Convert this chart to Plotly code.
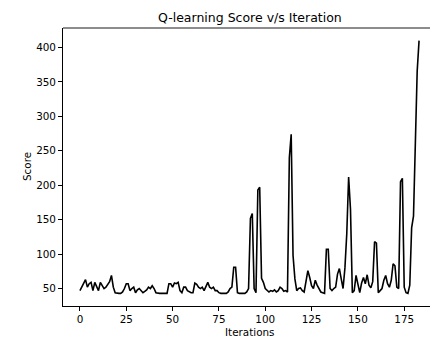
import plotly.graph_objects as go

iterations = list(range(184))
scores = [
    47, 52, 58, 63, 52, 57, 59, 47, 59, 52,
    47, 59, 54, 50, 52, 57, 60, 69, 52, 44,
    43, 43, 43, 45, 50, 57, 57, 47, 50, 52,
    44, 48, 50, 47, 44, 46, 48, 52, 50, 54,
    50, 44, 43, 43, 43, 43, 43, 43, 57, 57,
    52, 58, 57, 59, 47, 44, 52, 52, 47, 45,
    44, 44, 58, 56, 52, 50, 52, 47, 52, 59,
    52, 50, 52, 47, 47, 44, 43, 43, 43, 43,
    45, 50, 52, 81, 81, 44, 43, 43, 43, 43,
    45, 50, 152, 159, 50, 44, 193, 197, 65, 59,
    50, 48, 45, 47, 46, 48, 45, 47, 52, 50,
    46, 47, 45, 240, 274, 98, 64, 47, 50, 51,
    47, 45, 59, 76, 66, 54, 50, 62, 55, 50,
    45, 44, 43, 107, 107, 50, 47, 50, 52, 71,
    79, 64, 50, 80, 130, 212, 165, 44, 47, 69,
    55, 44, 58, 66, 57, 70, 55, 51, 60, 118,
    116, 44, 47, 50, 62, 69, 57, 52, 62, 86,
    83, 52, 50, 205, 210, 52, 44, 43, 55, 138,
    155, 260, 366, 410,
]
assert len(scores) == len(iterations)

title_text = "Q-learning Score v/s Iteration"
x_label = "Iterations"
y_label = "Score"
x_ticks = [0, 25, 50, 75, 100, 125, 150, 175]
y_ticks = [50, 100, 150, 200, 250, 300, 350, 400]

W, H = 430, 338
L, T, B = 63, 28, 32
full_right = 436  # axes right edge (clipped by figure)

xmin, xmax = min(iterations), max(iterations)
xpad = 0.05 * (xmax - xmin)
x0 = xmin - xpad
x1_full = xmax + xpad
x1 = x0 + (W - L) / (full_right - L) * (x1_full - x0)

ymin, ymax = min(scores), max(scores)
ypad = 0.05 * (ymax - ymin)

font = "DejaVu Sans"
fig = go.Figure()
fig.add_trace(go.Scatter(x=iterations, y=scores, mode="lines",
                         line=dict(color="black", width=1.6)))

fig.update_layout(
    width=W, height=H,
    margin=dict(l=L, r=0, t=T, b=B, autoexpand=False),
    paper_bgcolor="white", plot_bgcolor="white",
    showlegend=False,
    font=dict(family=font, size=10.4, color="black"),
    xaxis=dict(range=[x0, x1], tickvals=x_ticks, ticks="outside", ticklen=4,
               tickcolor="black", tickwidth=0.9, showline=True, linecolor="black",
               linewidth=0.9, showgrid=False, zeroline=False,
               tickfont=dict(size=10.4, color="black", family=font)),
    yaxis=dict(range=[ymin - ypad, ymax + ypad], tickvals=y_ticks, ticks="outside",
               ticklen=4, tickcolor="black", tickwidth=0.9, showline=True,
               linecolor="black", linewidth=0.9, showgrid=False, zeroline=False,
               tickfont=dict(size=10.4, color="black", family=font)),
    shapes=[dict(type="line", xref="paper", yref="paper", x0=0, x1=1, y0=1, y1=1,
                 line=dict(color="black", width=0.9))],
    annotations=[
        dict(text=title_text, xref="paper", yref="paper",
             x=((L + full_right) / 2 - L) / (W - L), y=1 + (T - 17) / (H - T - B),
             xanchor="center", yanchor="middle", showarrow=False,
             font=dict(size=12.5, family=font, color="black")),
        dict(text=x_label, xref="paper", yref="paper",
             x=((L + full_right) / 2 - L) / (W - L), y=-(332 - (H - B)) / (H - T - B),
             xanchor="center", yanchor="middle", showarrow=False,
             font=dict(size=10.4, family=font, color="black")),
        dict(text=y_label, xref="paper", yref="paper", textangle=-90,
             x=-(L - 27) / (W - L), y=0.5, xanchor="center", yanchor="middle",
             showarrow=False, font=dict(size=10.4, family=font, color="black")),
    ],
)

fig.write_html("out.html", config={"displayModeBar": False},
               post_script="document.body.style.margin='0';document.body.style.overflow='hidden';")
